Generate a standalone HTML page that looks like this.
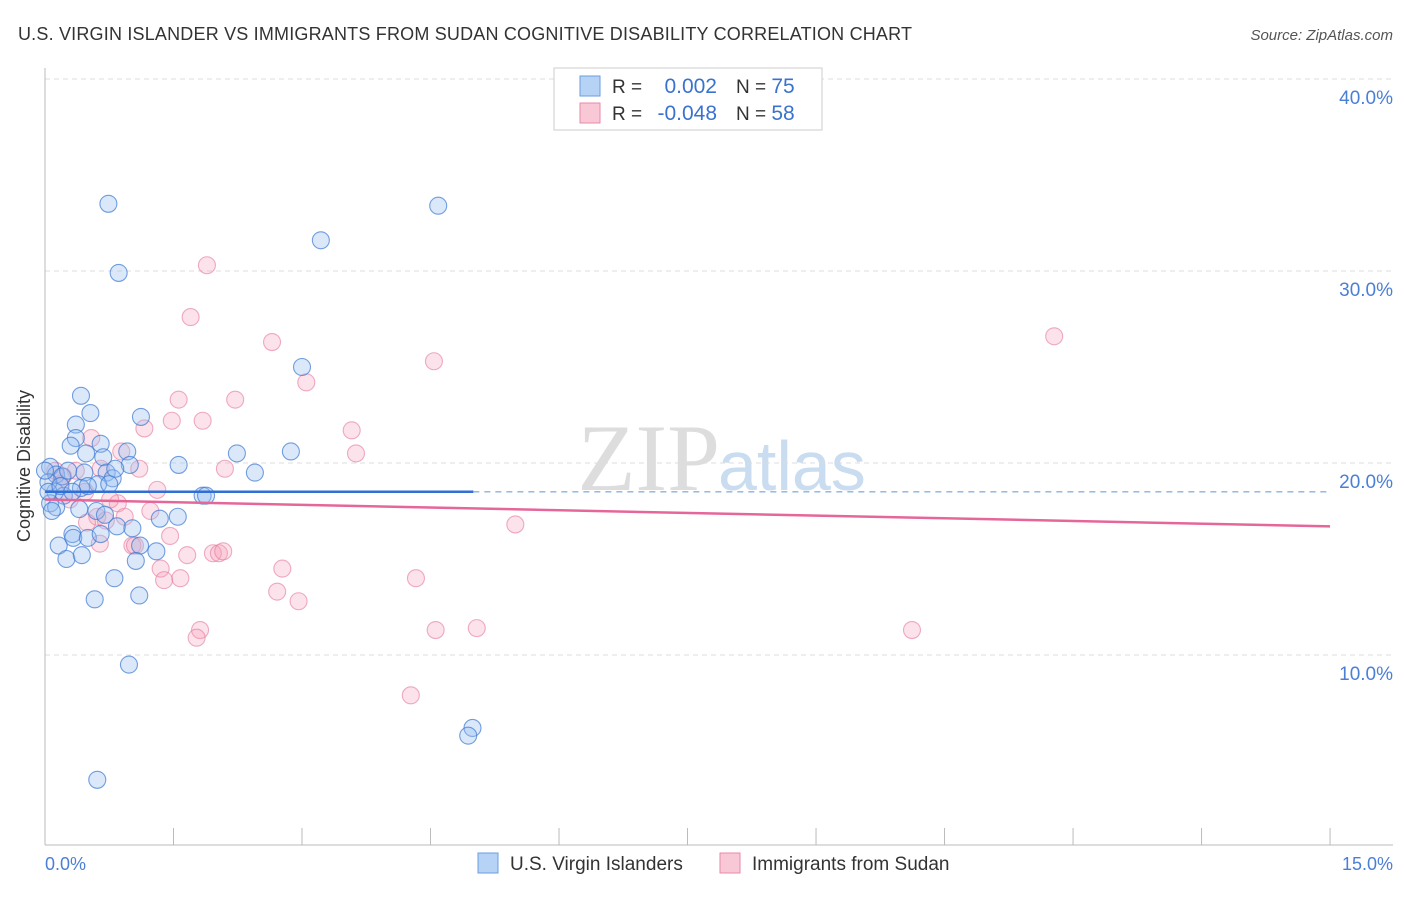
<!DOCTYPE html>
<html><head><meta charset="utf-8"><style>
body{margin:0;background:#fff;font-family:"Liberation Sans",sans-serif}
</style></head><body>
<svg width="1406" height="892" xmlns="http://www.w3.org/2000/svg" font-family="Liberation Sans, sans-serif">
<text x="18" y="40" font-size="18" fill="#333" textLength="894">U.S. VIRGIN ISLANDER VS IMMIGRANTS FROM SUDAN COGNITIVE DISABILITY CORRELATION CHART</text>
<text x="1393" y="40" font-size="15" fill="#555" font-style="italic" text-anchor="end">Source: ZipAtlas.com</text>
<text x="720" y="490" font-size="95" fill="#ddd" text-anchor="end" font-family="Liberation Serif, serif">ZIP</text>
<text x="718" y="490" font-size="70" fill="#c9dcf0">atlas</text>
<g id="grid"></g>
<line x1="45" y1="68" x2="45" y2="845" stroke="#bbb"/>
<line x1="45" y1="845" x2="1393" y2="845" stroke="#bbb"/>
<g id="ticks"></g>
<text x="20" y="456" font-size="18" fill="#333" transform="rotate(-90 30 456)" text-anchor="middle">Cognitive Disability</text>
<text x="45" y="870" font-size="18" fill="#4a7fd6">0.0%</text>
<text x="1393" y="870" font-size="18" fill="#4a7fd6" text-anchor="end">15.0%</text>
<g id="pts"></g>
<g id="lines"></g>
<g>
<rect x="554" y="68" width="268" height="62" fill="#fff" stroke="#ccc"/>
<rect x="580" y="76" width="20" height="20" fill="#b6d2f5" stroke="#6a9de0"/>
<rect x="580" y="103" width="20" height="20" fill="#f8c8d6" stroke="#e88aa8"/>
<text x="612" y="93" font-size="19" fill="#333">R =</text>
<text x="717" y="93" font-size="21" fill="#3a72d0" text-anchor="end">0.002</text>
<text x="736" y="93" font-size="19" fill="#333">N = <tspan fill="#3a72d0" font-size="21">75</tspan></text>
<text x="612" y="120" font-size="19" fill="#333">R =</text>
<text x="717" y="120" font-size="21" fill="#3a72d0" text-anchor="end">-0.048</text>
<text x="736" y="120" font-size="19" fill="#333">N = <tspan fill="#3a72d0" font-size="21">58</tspan></text>
</g>
<g>
<rect x="478" y="853" width="20" height="20" fill="#b6d2f5" stroke="#6a9de0"/>
<text x="510" y="870" font-size="19" fill="#333">U.S. Virgin Islanders</text>
<rect x="720" y="853" width="20" height="20" fill="#f8c8d6" stroke="#e88aa8"/>
<text x="752" y="870" font-size="19" fill="#333">Immigrants from Sudan</text>
</g>
</svg>
<script>
const yTicks=[10,20,30,40];
const xTicks=[0,1.5,3,4.5,6,7.5,9,10.5,12,13.5,15];
const blueX=[0.74,4.59,3.22,0.86,3.0,0.42,0.53,1.12,0.36,0.36,0.30,0.65,0.96,2.24,2.87,0.48,0.68,1.56,0.99,2.45,0.72,0.46,0.06,0.13,0.20,0.79,0.62,0.42,0.75,1.84,1.88,0.12,0.22,0.04,0.06,0.13,0.40,0.60,0.70,1.34,1.55,0.84,1.02,0.32,0.33,0.50,0.65,0.16,1.11,1.30,0.25,0.43,1.06,0.81,0.58,1.10,0.98,4.99,4.94,0.61,0.0,0.04,0.18,0.27,0.50,0.82,0.32,0.08];
const blueY=[33.5,33.4,31.6,29.9,25.0,23.5,22.6,22.4,22.0,21.3,20.9,21.0,20.6,20.5,20.6,20.5,20.3,19.9,19.9,19.5,19.5,19.5,19.8,19.4,19.3,19.2,18.9,18.7,18.9,18.3,18.3,18.5,18.3,19.0,17.9,17.7,17.6,17.5,17.3,17.1,17.2,16.7,16.6,16.3,16.1,16.1,16.3,15.7,15.7,15.4,15.0,15.2,14.9,14.0,12.9,13.1,9.5,6.2,5.8,3.5,19.6,18.5,18.8,19.6,18.8,19.7,18.5,17.5];
const pinkX=[1.89,1.70,2.65,4.54,11.78,3.05,1.56,2.22,1.16,1.48,1.84,3.58,3.63,0.54,0.89,1.10,2.10,0.36,0.21,0.65,1.31,0.85,1.23,0.61,0.93,0.49,0.71,1.46,1.02,1.05,0.64,1.66,1.96,2.03,2.08,1.35,2.77,1.39,1.58,2.71,2.96,4.33,5.49,1.81,1.77,4.56,5.04,10.12,4.27,0.18,0.29,0.12,0.47,0.76];
const pinkY=[30.3,27.6,26.3,25.3,26.6,24.2,23.3,23.3,21.8,22.2,22.2,21.7,20.5,21.3,20.6,19.7,19.7,19.6,19.3,19.7,18.6,17.9,17.5,17.2,17.2,16.9,17.0,16.2,15.7,15.7,15.8,15.2,15.3,15.3,15.4,14.5,14.5,13.9,14.0,13.3,12.8,14.0,16.8,11.3,10.9,11.3,11.4,11.3,7.9,18.9,18.1,19.6,18.5,18.1];
const blueTrend=[18.5,18.5];
const pinkTrend=[18.1,16.7];
const X=v=>45+v*85.67, Y=v=>655-(v-10)*19.2;
const NS='http://www.w3.org/2000/svg';
function mk(p,t,a){const e=document.createElementNS(NS,t);for(const k in a)e.setAttribute(k,a[k]);document.getElementById(p).appendChild(e);return e;}
yTicks.forEach(t=>{
 const l=mk('grid','line',{x1:45,x2:1393,y1:Y(t),y2:Y(t),stroke:'#ddd','stroke-dasharray':'5,4'});
 
 
 const tx=mk('grid','text',{x:1393,y:Y(t)+25,'font-size':19,fill:'#4a7fd6','text-anchor':'end'});tx.textContent=t.toFixed(1)+'%';
 
 
});
xTicks.forEach(t=>{
 const l=mk('ticks','line',{x1:X(t),x2:X(t),y1:828,y2:845,stroke:'#bbb'});
 
 
});
pinkX.forEach((v,i)=>{
 const c=mk('pts','circle',{cx:X(v),cy:Y(pinkY[i]),r:8.5,fill:'rgba(244,160,186,0.3)',stroke:'rgba(228,120,155,0.6)','stroke-width':1.1});
 
 
});
blueX.forEach((v,i)=>{
 const c=mk('pts','circle',{cx:X(v),cy:Y(blueY[i]),r:8.5,fill:'rgba(150,190,240,0.35)',stroke:'rgba(60,120,210,0.7)','stroke-width':1.1});
 
 
});
let l=mk('lines','line',{x1:X(0),x2:X(5.0),y1:Y(blueTrend[0]),y2:Y(blueTrend[0]+(blueTrend[1]-blueTrend[0])*5/15),stroke:'#2f6fd6','stroke-width':2.5});


l=mk('lines','line',{x1:X(5.0),x2:X(15),y1:Y(blueTrend[0]+(blueTrend[1]-blueTrend[0])*5/15),y2:Y(blueTrend[1]),stroke:'#8ab0e0','stroke-width':1.3,'stroke-dasharray':'6,5'});


l=mk('lines','line',{x1:X(0),x2:X(15),y1:Y(pinkTrend[0]),y2:Y(pinkTrend[1]),stroke:'#e5679a','stroke-width':2.5});


</script>
</body></html>
